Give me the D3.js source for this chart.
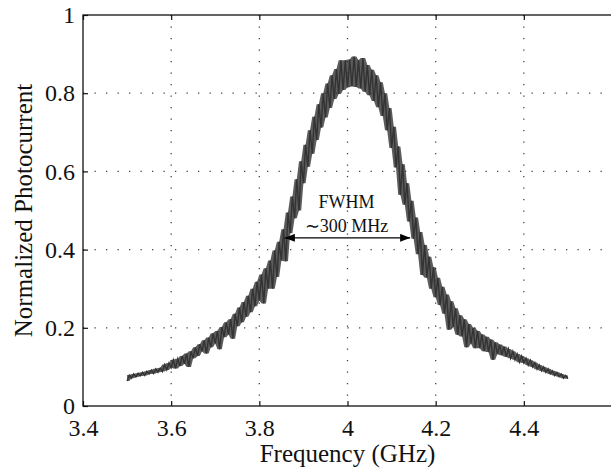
<!DOCTYPE html>
<html>
<head>
<meta charset="utf-8">
<script src="https://cdn.jsdelivr.net/npm/d3@7"></script>
<style>
  html, body { margin: 0; padding: 0; background: #fff; }
  svg { display: block; }
  text { font-family: "Liberation Serif", "Times New Roman", serif; }
</style>
</head>
<body>
<div id="chart"></div>
<script>
// Measured trace: normalized photocurrent, sampled every 5 MHz from 3.5 GHz
const FREQ_START = 3.5;
const FREQ_STEP = 0.005;
const photocurrent = [
  0.064, 0.079, 0.071, 0.082, 0.074, 0.084, 0.077, 0.086, 0.078, 0.089,
  0.082, 0.092, 0.083, 0.095, 0.086, 0.097, 0.088, 0.106, 0.092, 0.110,
  0.098, 0.118, 0.096, 0.121, 0.102, 0.128, 0.108, 0.134, 0.100, 0.140,
  0.122, 0.150, 0.128, 0.158, 0.140, 0.168, 0.134, 0.175, 0.150, 0.186,
  0.160, 0.192, 0.145, 0.202, 0.176, 0.214, 0.183, 0.222, 0.172, 0.236,
  0.204, 0.252, 0.214, 0.266, 0.228, 0.282, 0.240, 0.300, 0.255, 0.318,
  0.270, 0.336, 0.262, 0.352, 0.300, 0.372, 0.300, 0.398, 0.330, 0.420,
  0.372, 0.452, 0.370, 0.495, 0.442, 0.536, 0.480, 0.580, 0.500, 0.626,
  0.570, 0.668, 0.612, 0.705, 0.645, 0.740, 0.680, 0.772, 0.712, 0.800,
  0.738, 0.825, 0.762, 0.846, 0.785, 0.862, 0.798, 0.884, 0.808, 0.884,
  0.815, 0.886, 0.818, 0.894, 0.816, 0.884, 0.812, 0.890, 0.804, 0.872,
  0.795, 0.860, 0.780, 0.846, 0.764, 0.828, 0.742, 0.800, 0.705, 0.762,
  0.660, 0.714, 0.610, 0.664, 0.540, 0.618, 0.515, 0.570, 0.472, 0.525,
  0.428, 0.482, 0.388, 0.445, 0.335, 0.412, 0.328, 0.382, 0.300, 0.355,
  0.278, 0.328, 0.258, 0.305, 0.236, 0.285, 0.195, 0.268, 0.202, 0.250,
  0.182, 0.232, 0.178, 0.222, 0.150, 0.210, 0.160, 0.200, 0.148, 0.192,
  0.148, 0.183, 0.140, 0.177, 0.138, 0.170, 0.118, 0.163, 0.133, 0.157,
  0.130, 0.152, 0.126, 0.146, 0.122, 0.140, 0.118, 0.133, 0.112, 0.128,
  0.110, 0.122, 0.104, 0.117, 0.100, 0.111, 0.094, 0.105, 0.090, 0.100,
  0.086, 0.095, 0.082, 0.090, 0.078, 0.086, 0.075, 0.082, 0.071, 0.078,
  0.070
];

// Axis ticks
const xTicks = [3.4, 3.6, 3.8, 4, 4.2, 4.4];
const yTicks = [0, 0.2, 0.4, 0.6, 0.8, 1];

// FWHM annotation
const fwhmFreqs = [3.858, 4.142];
const fwhmLevel = 0.43;
const fwhmLines = ['FWHM', '\u223C300 MHz'];

const FONT = '"Liberation Serif", "Times New Roman", serif';

// Dimensions
const WIDTH = 611;
const HEIGHT = 468;
const MARGIN = { top: 15, right: -1, bottom: 62, left: 83 };
const innerW = WIDTH - MARGIN.left - MARGIN.right;
const innerH = HEIGHT - MARGIN.top - MARGIN.bottom;

const svg = d3.select('#chart')
  .append('svg')
  .attr('width', WIDTH)
  .attr('height', HEIGHT);

const g = svg.append('g')
  .attr('transform', `translate(${MARGIN.left},${MARGIN.top})`);

const x = d3.scaleLinear().domain([3.4, 4.6]).range([0, innerW]);
const y = d3.scaleLinear().domain([0, 1]).range([innerH, 0]);
const fmt = d3.format('~g');
const freqAt = i => FREQ_START + i * FREQ_STEP;

// Dotted grid
g.append('g')
  .selectAll('line')
  .data(xTicks.slice(1))
  .join('line')
  .attr('x1', d => x(d)).attr('x2', d => x(d))
  .attr('y1', 0).attr('y2', innerH)
  .attr('stroke', '#444')
  .attr('stroke-width', 1.3)
  .attr('stroke-dasharray', '1.3,10.2');

g.append('g')
  .selectAll('line')
  .data(yTicks.slice(1, -1))
  .join('line')
  .attr('x1', 0).attr('x2', innerW)
  .attr('y1', d => y(d)).attr('y2', d => y(d))
  .attr('stroke', '#444')
  .attr('stroke-width', 1.3)
  .attr('stroke-dasharray', '1.3,10.2');

// Trace: fill between neighbouring samples so the noisy band reads solid
const neighbours = i => photocurrent.slice(Math.max(0, i - 1), i + 2);
const band = d3.area()
  .x((d, i) => x(freqAt(i)))
  .y0((d, i) => y(d3.min(neighbours(i))))
  .y1((d, i) => y(d3.max(neighbours(i))));

g.append('path')
  .datum(photocurrent)
  .attr('d', band)
  .attr('fill', '#333')
  .attr('opacity', 0.8);

const line = d3.line()
  .x((d, i) => x(freqAt(i)))
  .y(d => y(d));

g.append('path')
  .datum(photocurrent)
  .attr('d', line)
  .attr('fill', 'none')
  .attr('stroke', '#333')
  .attr('stroke-width', 1.4)
  .attr('stroke-linejoin', 'miter');

// Axes (inward ticks, MATLAB style)
const styleAxis = sel => {
  sel.attr('font-family', FONT).attr('font-size', 24);
  sel.select('.domain').remove();
  sel.selectAll('line').attr('stroke', '#111').attr('stroke-width', 1.2);
  sel.selectAll('text').attr('fill', '#111');
};

g.append('g')
  .attr('transform', `translate(0,${innerH})`)
  .call(d3.axisBottom(x).tickValues(xTicks).tickFormat(fmt).tickSize(-5).tickPadding(13))
  .call(styleAxis);

g.append('g')
  .call(d3.axisTop(x).tickValues(xTicks).tickFormat('').tickSize(-5))
  .call(styleAxis);

g.append('g')
  .call(d3.axisLeft(y).tickValues(yTicks).tickFormat(fmt).tickSize(-5).tickPadding(8))
  .call(styleAxis);

// Box
g.append('rect')
  .attr('width', innerW)
  .attr('height', innerH)
  .attr('fill', 'none')
  .attr('stroke', '#111')
  .attr('stroke-width', 1.3);

// FWHM arrow
const defs = svg.append('defs');
defs.append('marker')
  .attr('id', 'head')
  .attr('viewBox', '0 0 10 8')
  .attr('refX', 10).attr('refY', 4)
  .attr('markerWidth', 10).attr('markerHeight', 8)
  .attr('markerUnits', 'userSpaceOnUse')
  .attr('orient', 'auto-start-reverse')
  .append('path')
  .attr('d', 'M0,0 L10,4 L0,8 Z')
  .attr('fill', '#000');

g.append('line')
  .attr('x1', x(fwhmFreqs[0])).attr('x2', x(fwhmFreqs[1]))
  .attr('y1', y(fwhmLevel)).attr('y2', y(fwhmLevel))
  .attr('stroke', '#000')
  .attr('stroke-width', 1.4)
  .attr('marker-start', 'url(#head)')
  .attr('marker-end', 'url(#head)');

g.append('g')
  .selectAll('text')
  .data(fwhmLines)
  .join('text')
  .attr('x', x(d3.mean(fwhmFreqs)) - 1)
  .attr('y', (d, i) => y(fwhmLevel) - 30 + i * 24)
  .attr('text-anchor', 'middle')
  .attr('fill', '#111')
  .attr('font-family', FONT)
  .attr('font-size', 18)
  .text(d => d);

// Axis labels
svg.append('text')
  .attr('x', MARGIN.left + x(4))
  .attr('y', 462)
  .attr('text-anchor', 'middle')
  .attr('fill', '#111')
  .attr('font-family', FONT)
  .attr('font-size', 25)
  .text('Frequency (GHz)');

svg.append('text')
  .attr('transform', `translate(32,${MARGIN.top + innerH / 2}) rotate(-90)`)
  .attr('text-anchor', 'middle')
  .attr('fill', '#111')
  .attr('font-family', FONT)
  .attr('font-size', 25)
  .text('Normalized Photocurrent');
</script>
</body>
</html>
